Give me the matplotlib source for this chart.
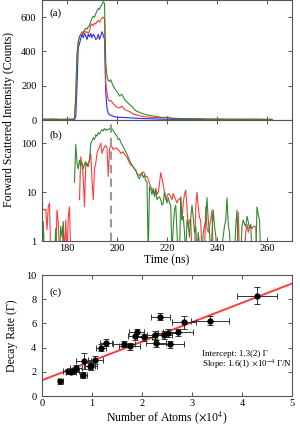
import matplotlib
matplotlib.use("Agg")
import matplotlib.pyplot as plt
import numpy as np

plt.rcParams['font.family'] = ['Liberation Serif', 'DejaVu Serif']
plt.rcParams['mathtext.fontset'] = 'stix'

nan = np.nan

# ---- panel (a): forward scattered counts vs time ----
t_a = [170, 172, 174, 176, 178, 180, 182,
       183, 183.5, 184, 184.5, 185, 185.5, 186, 186.5, 187, 187.5,
       188, 188.5, 189, 189.5, 190, 190.5, 191, 191.5, 192, 192.5,
       193, 193.5, 194, 194.5, 195, 195.5, 196, 196.5, 197, 197.5,
       198, 198.5, 199, 199.5, 200,
       201, 202, 203, 204, 205, 206, 207, 208, 209, 210,
       212, 214, 216, 218, 220, 222, 225, 228, 232, 236, 240,
       245, 250, 255, 260, 262]
green_a = [4, 6, 3, 5, 2, 6, 4,
           8, 150, 380, 460, 490, 495, 500, 510, 525, 535,
           530, 545, 550, 575, 595, 605, 600, 620, 635, 650,
           645, 665, 675, 690, 680, 330, 255, 230, 225, 235,
           215, 200, 185, 175, 165,
           140, 150, 120, 105, 90, 80, 60, 50, 45, 38,
           30, 25, 20, 15, 12, 10, 9, 8, 7, 6, 5,
           5, 4, 6, 3, 4]
red_a = [5, 3, 6, 4, 5, 3, 5,
         6, 120, 360, 450, 485, 500, 515, 505, 520, 510,
         515, 505, 520, 555, 560, 550, 565, 560, 575, 580,
         570, 585, 595, 600, 590, 220, 155, 120, 110, 115,
         105, 95, 90, 80, 75,
         70, 80, 62, 55, 50, 40, 32, 30, 25, 22,
         18, 15, 14, 12, 18, 10, 8, 6, 7, 5, 6,
         4, 5, 3, 5, 3]
blue_a = [3, 2, 4, 3, 2, 3, 2,
          2, 20, 200, 420, 445, 475, 500, 480, 505, 490,
          470, 500, 485, 505, 480, 500, 490, 470, 475, 500,
          470, 490, 515, 495, 470, 160, 70, 40, 30, 28,
          25, 22, 20, 18, 17,
          16, 15, 14, 14, 13, 12, 11, 10, 9, 9,
          8, 7, 6, 5, 5, 4, 4, 3, 3, 2, 2,
          2, 2, 1, 1, 1]

# ---- panel (b): log scale, 0.5 ns bins from 170 ns ----
t_b = np.arange(170, 259.25, 0.5)
green_b = [0.5, 2.5, 0.5, nan, nan, nan, nan, nan, nan, nan,
           0.5, 1.8, 0.5, nan, 0.6, 2.0, 1.2, 2.5, 0.5, nan,
           nan, nan, nan, nan, nan, nan, 16, 95, 40, 30,
           45, 35, 40, 30, 38, 42, 35, 40, 45, 100,
           110, 130, 120, 150, 140, 165, 155, 175, 190, 180,
           200, 185, 195, 190, 200, 210, 195, 185, 165, 150,
           140, 120, 125, 105, 95, 85, 75, 67, 60, 52,
           45, 40, 36, 33, 30, 28, 24, 20, 19, 22,
           24, 20, 22, 17, 16, 0.5, 13, 11, 9, 12,
           8, 11, 7, 7.7, 8, 7, 5.4, 6, 10, 8,
           6, 7.7, 6, 5.4, 0.5, 2, 4.3, 5.4, 1.5, 0.5,
           0.5, 7.7, 2.7, 3.2, 1.5, 0.5, 2.7, 2.2, 1.2, 3,
           5.4, 3, 1.5, 2, 0.5, 1.5, 0.8, 0.5, 0.5, 1.5,
           2, 2.7, 7.7, 2.7, 1.5, 0.5, 1.5, 4.3, 2, 1.3,
           0.5, 0.5, nan, 0.5, 0.8, 1.3, 2, 2.7, 7.7, 2.2,
           1.5, 0.5, 0.5, nan, 0.5, 2, 4.3, 0.5, nan, 0.5,
           2, 2.7, 2.2, 2, 3.2, 2.5, 1.8, 2.2, 0.5, nan,
           nan, 0.5, 5, 3.5, 2.7, 0.5, nan, nan, nan]
red_b = [4.3, 4.5, 4.3, 4.5, 1.7, 5, 6, 0.5, nan, nan,
         nan, 0.5, 4.3, 2.5, 0.5, nan, 0.5, 2.0, 0.5, 2.7,
         0.5, 3, 5, 0.5, nan, nan, nan, nan, nan, nan,
         7, 53, 39, 20, 5, 39, 35, 33, 45, 62,
         18, 7, 30, 39, 62, 75, 85, 100, 62, 75,
         85, 90, 80, 21, 74, 93, 85, 74, 78, 80,
         80, 72, 70, 62, 65, 67, 60, 55, 52, 45,
         40, 36, 35, 33, 30, 28, 24, 23, 22, 24,
         25, 26, 24, 21, 21, 18, 15, 13, 11, 10.5,
         9, 12, 9, 10, 15, 25, 19, 14, 10, 7,
         8, 9.4, 9, 8, 7, 9.4, 8, 7, 6, 7,
         7, 8, 2.7, 6, 9, 11, 5, 1.8, 2.7, 2.7,
         0.5, nan, 0.5, 5, 10, 5, 3, 2.7, 0.5, nan,
         0.5, 5, 1.8, 1.5, 2, 2.7, 4.3, 0.5, nan, nan,
         nan, nan, nan, nan, nan, nan, nan, nan, nan, nan,
         nan, nan, nan, nan, nan, nan, 0.5, 3.9, 0.5, nan,
         nan, nan, 0.5, 1.5, 2.2, 1.5, 2, 2, 1.8, 2,
         2, 2, 0.5, nan, nan, nan, nan, nan, nan]
t_drive_off = 197.6

# ---- panel (c): decay rate vs atom number ----
n_atoms = [0.37, 0.52, 0.58, 0.63, 0.69, 0.83, 0.84, 0.97, 0.99, 1.07,
           1.19, 1.29, 1.65, 1.76, 1.87, 1.90, 2.05, 2.26, 2.29, 2.37,
           2.45, 2.53, 2.57, 2.73, 2.85, 3.36, 4.30]
n_err = [0.05, 0.1, 0.1, 0.12, 0.12, 0.07, 0.15, 0.1, 0.12, 0.15,
         0.1, 0.12, 0.22, 0.21, 0.15, 0.15, 0.15, 0.15, 0.2, 0.19,
         0.15, 0.2, 0.27, 0.3, 0.24, 0.38, 0.4]
rate = [1.22, 2.05, 2.0, 2.1, 2.3, 1.74, 2.87, 2.5, 2.45, 2.97,
        3.99, 4.41, 4.33, 4.1, 4.95, 5.26, 4.85, 5.05, 4.35, 6.55,
        5.05, 5.2, 4.27, 5.25, 6.08, 6.23, 8.28]
rate_err = [0.2, 0.2, 0.2, 0.25, 0.3, 0.25, 0.65, 0.3, 0.3, 0.3,
            0.3, 0.3, 0.25, 0.3, 0.3, 0.3, 0.3, 0.3, 0.3, 0.3,
            0.3, 0.3, 0.3, 0.3, 0.55, 0.35, 0.7]
fit_intercept = 1.3
fit_slope = 1.6

green = '#2e8b2e'
red = '#ff3b3b'
blue = '#2b2bff'
frame = '#555555'

fig = plt.figure(figsize=(3, 4.25), dpi=100)
ax_a = fig.add_axes([0.14, 0.7176, 0.8333, 0.2824])
ax_b = fig.add_axes([0.14, 0.4329, 0.8333, 0.2847])
ax_c = fig.add_axes([0.14, 0.0682, 0.8333, 0.2847])

for ax in (ax_a, ax_b, ax_c):
    for s in ax.spines.values():
        s.set_color(frame)
        s.set_linewidth(0.8)
    ax.tick_params(direction='in', top=True, right=True, labelsize=7.5,
                   length=3, width=0.7, color=frame)
    ax.tick_params(axis='x', pad=2)
    ax.tick_params(axis='y', pad=4)

ax_a.plot(t_a, blue_a, color=blue, lw=0.8)
ax_a.plot(t_a, red_a, color=red, lw=0.8)
ax_a.plot(t_a, green_a, color=green, lw=0.8)
ax_a.set_xlim(170, 270)
ax_a.set_ylim(0, 700)
ax_a.set_yticks([0, 200, 400, 600])
ax_a.set_xticks([180, 200, 220, 240, 260])
ax_a.set_xticklabels([])
ax_a.text(0.03, 0.89, '(a)', transform=ax_a.transAxes, fontsize=8, va='center')

ax_b.plot(t_b, red_b, color=red, lw=0.8)
ax_b.plot(t_b, green_b, color=green, lw=0.8)
ax_b.axvline(t_drive_off, color='#999999', lw=1.5, ls=(0, (4, 2.5)))
ax_b.set_yscale('log')
ax_b.set_xlim(170, 270)
ax_b.set_ylim(1, 300)
ax_b.set_yticks([1, 10, 100])
ax_b.set_yticklabels(['1', '10', '100'])
ax_b.minorticks_off()
ax_b.set_xticks([180, 200, 220, 240, 260])
ax_b.set_xlabel('Time (ns)', fontsize=8.5, labelpad=1)
ax_b.text(0.03, 0.876, '(b)', transform=ax_b.transAxes, fontsize=8, va='center')

fig.text(0.03, 0.718, 'Forward Scattered Intensity (Counts)', rotation=90,
         ha='center', va='center', fontsize=8.5)

xs = np.array([0, 5])
ax_c.plot(xs, fit_intercept + fit_slope * xs, color=red, lw=1.4, zorder=1)
ax_c.errorbar(n_atoms, rate, xerr=n_err, yerr=rate_err, fmt='o', color='black',
              ms=3.5, ecolor='#333333', elinewidth=0.7, capsize=2, capthick=0.7,
              zorder=2)
ax_c.set_xlim(0, 5)
ax_c.set_ylim(0, 10)
ax_c.set_xticks([0, 1, 2, 3, 4, 5])
ax_c.set_yticks([0, 2, 4, 6, 8, 10])
ax_c.set_xlabel(r'Number of Atoms ($\times$10$^4$)', fontsize=8.5, labelpad=1)
ax_c.set_ylabel('Decay Rate (Γ)', fontsize=8.5, labelpad=6)
ax_c.text(0.03, 0.86, '(c)', transform=ax_c.transAxes, fontsize=8, va='center')
ax_c.text(3.2, 3.5, 'Intercept: 1.3(2) Γ', fontsize=6.5, va='center')
ax_c.text(3.2, 2.6, r'Slope: 1.6(1) $\times$10$^{-4}$ Γ/N', fontsize=6.5, va='center')

fig.savefig('out.png', dpi=100)
